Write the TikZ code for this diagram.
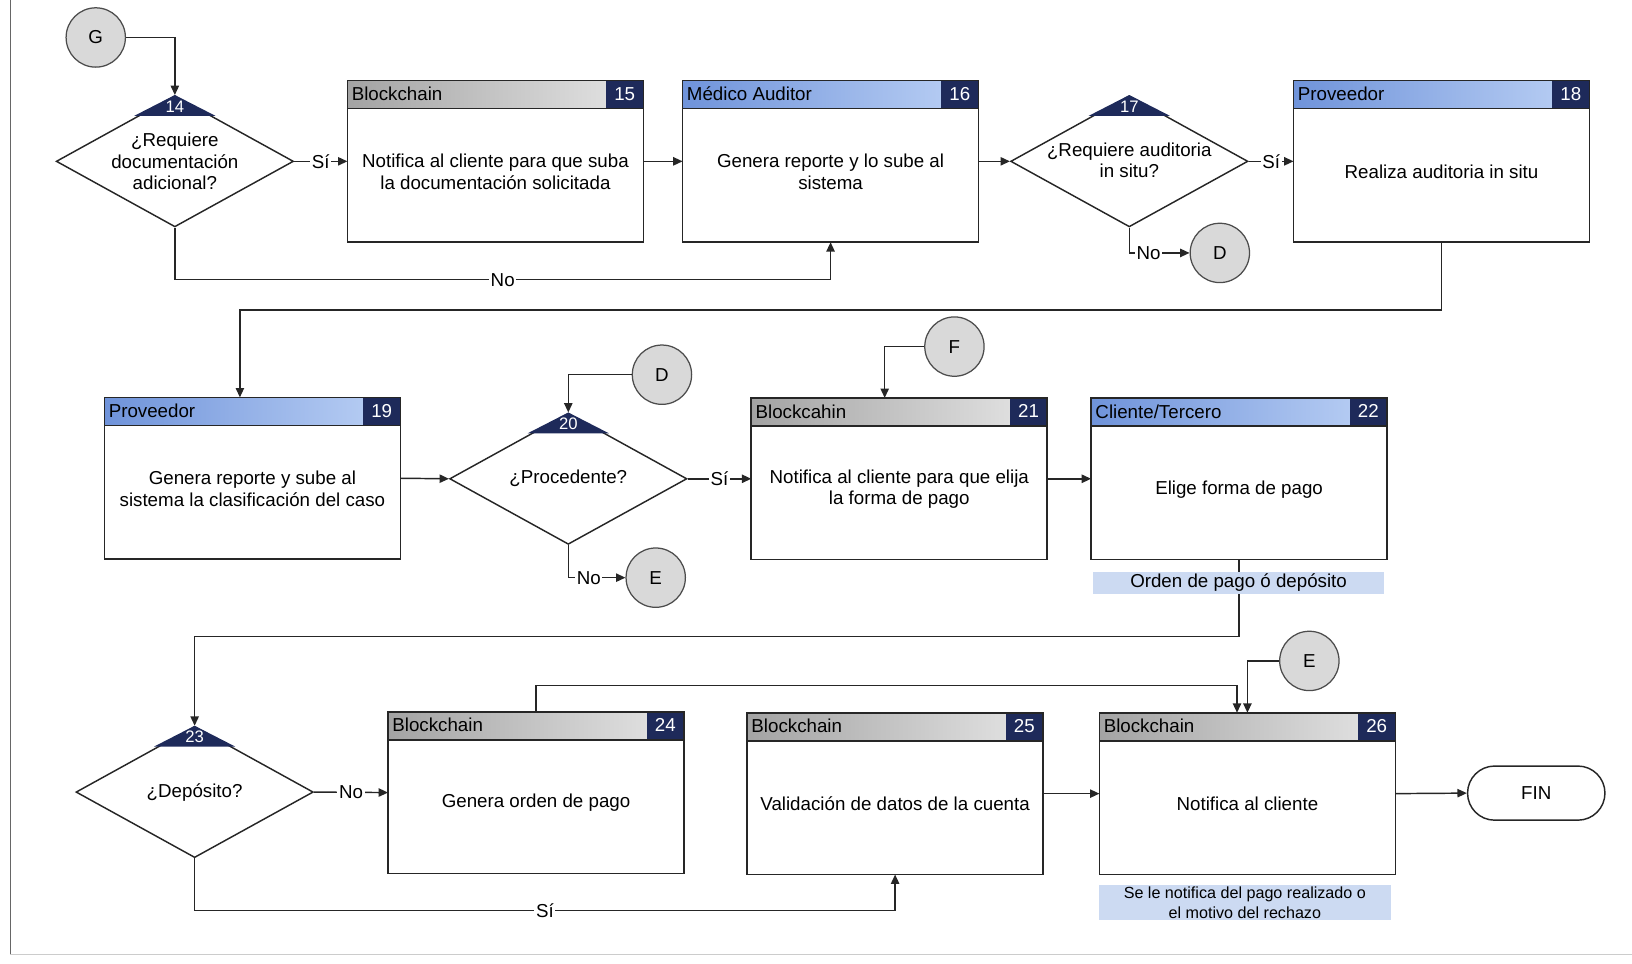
\documentclass[tikz,border=0pt]{standalone}
\usepackage{fontspec}
\setmainfont{Liberation Sans}
\usetikzlibrary{arrows.meta,calc,shapes.geometric}
\definecolor{navy}{HTML}{1E2A5A}
\definecolor{hblueL}{HTML}{6F93DA}
\definecolor{hblueR}{HTML}{B3CAF2}
\definecolor{hgrayL}{HTML}{A3A3A3}
\definecolor{hgrayR}{HTML}{DEDEDE}
\definecolor{circfill}{HTML}{D9D9D9}
\definecolor{annfill}{HTML}{CCDAF2}
\tikzset{
  every node/.style={font=\fontsize{18}{21}\selectfont},
  box/.style={draw=none, minimum width=284, minimum height=155, inner sep=0},
  boxborder/.style={draw=black!85, line width=1.6},
  hgray/.style={left color=hgrayL, right color=hgrayR},
  hblue/.style={left color=hblueL, right color=hblueR},
  dia/.style={diamond, draw=black!85, line width=1.4, minimum width=228, minimum height=126, inner sep=0},
  conn/.style={circle, draw=black!70, line width=1.2, fill=circfill, minimum size=57, inner sep=0},
  flow/.style={draw=black!85, line width=1.4, -{Triangle[length=9pt,width=8pt]}},
  lbl/.style={fill=white, inner sep=1.5},
  ann/.style={fill=annfill, minimum width=280, inner sep=2, align=center},
  term/.style={draw=black!85, line width=1.4, minimum width=132, minimum height=52, rounded corners=26, inner sep=0},
  dtxt/.style={align=center, inner sep=0},
}
\newcommand{\pbox}[7]{%
  \node[box] (#1) at (#2,#3) {};
  \shade[#4] (#1.north west) rectangle ($(#1.north east)+(-36,27)$);
  \fill[navy] ($(#1.north east)+(-36,0)$) rectangle ($(#1.north east)+(0,27)$);
  \node[anchor=west, inner sep=0] (#1-role) at ($(#1.north west)+(4,13)$) {#5};
  \node[text=white, inner sep=0] (#1-num) at ($(#1.north east)+(-18,13)$) {#6};
  \node[align=center, inner sep=0] (#1-txt) at ($(#1.center)+(0,10)$) {#7};
  \draw[boxborder] (#1.north west) rectangle (#1.south east);
  \draw[boxborder] ($(#1.north west)+(0,27)$) -- ($(#1.north east)+(0,27)$);
}
\newcommand{\dnum}[2]{%
  \fill[navy] (#1.north) -- ++(-39,20) -- ++(78,0) -- cycle;
  \node[text=white, inner sep=0, font=\fontsize{16}{18}\selectfont] (#1-num) at ($(#1.north)+(0,11)$) {#2};
}
\begin{document}
\begin{tikzpicture}[x=1pt,y=-1pt]
\useasboundingbox (0,0) rectangle (1568,926);
% frame
\draw[black!60, line width=1.5] (10,0) -- (10,917);
\draw[black!20, line width=1.5] (10,917) -- (1568,917);

% ---------- row 1 ----------
\node[conn] (G) at (92,36) {G};
\node[dia] (d14) at (168,155) {};
\dnum{d14}{14}
\node[dtxt] (d14-t) at (168,155) {¿Requiere\\documentación\\adicional?};

\pbox{b15}{476}{155}{hgray}{Blockchain}{15}{Notifica al cliente para que suba\\la documentación solicitada}
\pbox{b16}{798}{155}{hblue}{Médico Auditor}{16}{Genera reporte y lo sube al\\sistema}

\node[dia] (d17) at (1085,155) {};
\dnum{d17}{17}
\node[dtxt] (d17-t) at (1085,154) {¿Requiere auditoria\\in situ?};
\node[conn] (D1) at (1172,243) {D};

\pbox{b18}{1385}{155}{hblue}{Proveedor}{18}{Realiza auditoria in situ}

% ---------- row 2 ----------
\pbox{b19}{242.5}{459.5}{hblue}{Proveedor}{19}{Genera reporte y sube al\\sistema la clasificación del caso}
\node[dia] (d20) at (546,460) {};
\dnum{d20}{20}
\node[dtxt] (d20-t) at (546,460) {¿Procedente?};
\node[conn] (D2) at (636,360) {D};
\node[conn] (E1) at (630,555) {E};
\node[conn] (F) at (917,333) {F};
\pbox{b21}{864}{460}{hgray}{Blockcahin}{21}{Notifica al cliente para que elija\\la forma de pago}
\pbox{b22}{1190.5}{460}{hblue}{Cliente/Tercero}{22}{Elige forma de pago}

% ---------- row 3 ----------
\node[dia] (d23) at (187,761) {};
\dnum{d23}{23}
\node[dtxt] (d23-t) at (187,761) {¿Depósito?};
\pbox{b24}{515}{761.5}{hgray}{Blockchain}{24}{Genera orden de pago}
\pbox{b25}{860}{762.5}{hgray}{Blockchain}{25}{Validación de datos de la cuenta}
\pbox{b26}{1198.5}{762.5}{hgray}{Blockchain}{26}{Notifica al cliente}
\node[conn] (E2) at (1258,635) {E};
\node[term] (fin) at (1476,762) {FIN};

% ---------- connectors ----------
\draw[flow] (G.east) -| (d14.north);
\draw[flow] (d14.east) -- node[lbl]{Sí} (b15.west);
\draw[flow] (b15.east) -- (b16.west);
\draw[flow] (d14.south) -- ++(0,50) -| node[lbl,pos=0.25]{No} (b16.south);
\draw[flow] (b16.east) -- (d17.west);
\draw[flow] (d17.east) -- node[lbl]{Sí} (b18.west);
\draw[flow] (d17.south) |- node[lbl,pos=0.66]{No} (D1.west);
\draw[flow] (b18.south) -- ++(0,65) -| ($(b19.north)+(-12,0)$);

\draw[flow] (b19.east) -- (d20.west);
\draw[flow] (D2.west) -| (d20.north);
\draw[flow] (d20.east) -- node[lbl]{Sí} (b21.west);
\draw[flow] (d20.south) |- node[lbl,pos=0.68]{No} (E1.west);
\draw[flow] (F.west) -| ($(b21.north)+(-14,0)$);
\draw[flow] (b21.east) -- (b22.west);
\draw[flow] (b22.south) -- ++(0,74) -| (d23.north);
\node[ann] (a22) at (1190,560) {Orden de pago ó depósito};

\draw[flow] (d23.east) -- node[lbl]{No} (b24.west);
\draw[flow] (b24.north) -- ++(0,-25) -| ($(b26.north)+(-10,0)$);
\draw[flow] (d23.south) -- ++(0,50) -| node[lbl,pos=0.25]{Sí} (b25.south);
\draw[flow] (b25.east) -- (b26.west);
\draw[flow] (E2.west) -| (b26.north);
\draw[flow] (b26.east) -- (fin.west);
\node[ann, font=\fontsize{15.5}{19}\selectfont] (a26) at (1196,867) {Se le notifica del pago realizado o\\el motivo del rechazo};
\end{tikzpicture}
\end{document}
